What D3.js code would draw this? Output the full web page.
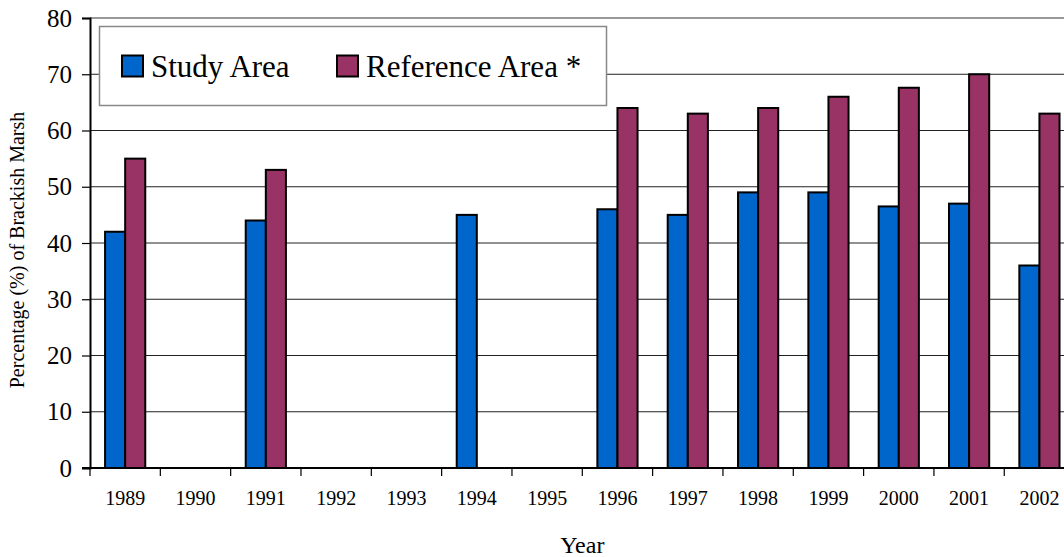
<!DOCTYPE html>
<html>
<head>
<meta charset="utf-8">
<script src="https://cdn.jsdelivr.net/npm/d3@7"></script>
<style>
  html, body { margin: 0; padding: 0; background: #fff; overflow: hidden; }
  svg { display: block; }
  svg text { font-family: "Liberation Serif", "Times New Roman", serif; fill: #000; }
</style>
</head>
<body>
<svg id="chart" width="1064" height="557"></svg>
<script>
// Brackish marsh share by year
const years = ["1989","1990","1991","1992","1993","1994","1995","1996","1997","1998","1999","2000","2001","2002"];
const studyArea = [42, null, 44, null, null, 45, null, 46, 45, 49, 49, 46.5, 47, 36];
const referenceArea = [55, null, 53, null, null, null, null, 64, 63, 64, 66, 67.6, 70, 63];
const seriesNames = ["Study Area", "Reference Area *"];
const seriesColors = ["#0066CC", "#993366"];
const yTicks = [0, 10, 20, 30, 40, 50, 60, 70, 80];

const serif = "Liberation Serif, Times New Roman, serif";
const svg = d3.select("#chart");
const plotL = 90, plotR = 1074.6, plotT = 18, plotB = 468;

const x = d3.scaleBand().domain(years).range([plotL, plotR]).padding(0);
const y = d3.scaleLinear().domain([0, 80]).range([plotB, plotT]);

// each group of two bars uses a 150% gap width
const barW = x.bandwidth() / 3.5;

// horizontal gridlines
svg.append("g")
  .selectAll("line")
  .data(yTicks.filter(t => t > 0 && t < 80))
  .join("line")
  .attr("x1", plotL).attr("x2", plotR)
  .attr("y1", d => y(d)).attr("y2", d => y(d))
  .attr("stroke", "#222").attr("stroke-width", 1);

// plot area top border
svg.append("line")
  .attr("x1", plotL).attr("x2", plotR)
  .attr("y1", y(80)).attr("y2", y(80))
  .attr("stroke", "#999").attr("stroke-width", 2);

// bars
const rows = years.map((yr, i) => ({ yr, vals: [studyArea[i], referenceArea[i]] }));
const groups = svg.append("g").selectAll("g")
  .data(rows).join("g")
  .attr("transform", d => `translate(${x(d.yr) + x.bandwidth() / 2 - barW},0)`);
groups.selectAll("rect")
  .data(d => d.vals.map((v, k) => ({ v, k })).filter(e => e.v !== null))
  .join("rect")
  .attr("x", d => d.k * barW)
  .attr("width", barW)
  .attr("y", d => y(d.v))
  .attr("height", d => y(0) - y(d.v))
  .attr("fill", d => seriesColors[d.k])
  .attr("stroke", "#000").attr("stroke-width", 2);

// y axis
const yAxis = svg.append("g")
  .attr("transform", `translate(${plotL},0)`)
  .call(d3.axisLeft(y).tickValues(yTicks).tickSize(8).tickPadding(10))
  .attr("font-family", serif);
yAxis.select(".domain").attr("stroke", "#000").attr("stroke-width", 2);
yAxis.selectAll(".tick line").attr("stroke", "#000").attr("stroke-width", 1.2);
yAxis.selectAll(".tick text").attr("font-size", 25).attr("fill", "#000")
  .attr("font-family", serif);

// x axis: ticks on category boundaries
const xAxis = svg.append("g").attr("transform", `translate(0,${plotB})`);
xAxis.append("line").attr("x1", plotL - 8).attr("x2", plotR)
  .attr("stroke", "#000").attr("stroke-width", 2);
xAxis.selectAll("line.tk")
  .data(years).join("line").attr("class", "tk")
  .attr("x1", d => x(d)).attr("x2", d => x(d))
  .attr("y1", 0).attr("y2", 8)
  .attr("stroke", "#000").attr("stroke-width", 1.2);
xAxis.selectAll("text")
  .data(years).join("text")
  .attr("x", d => x(d) + x.bandwidth() / 2)
  .attr("y", 37)
  .attr("text-anchor", "middle")
  .attr("font-family", serif)
  .attr("font-size", 20)
  .text(d => d);

// axis titles
svg.append("text")
  .attr("x", (plotL + plotR) / 2).attr("y", 553)
  .attr("text-anchor", "middle").attr("font-size", 24)
  .attr("font-family", serif)
  .text("Year");
svg.append("text")
  .attr("transform", `translate(24,250) rotate(-90)`)
  .attr("text-anchor", "middle").attr("font-size", 20)
  .attr("font-family", serif)
  .text("Percentage (%) of Brackish Marsh");

// legend
const lg = svg.append("g");
lg.append("rect").attr("x", 99.5).attr("y", 26.5).attr("width", 507).attr("height", 79)
  .attr("fill", "#fff").attr("stroke", "#888").attr("stroke-width", 1.5);
const legendX = [122, 337];
seriesNames.forEach((name, k) => {
  lg.append("rect").attr("x", legendX[k]).attr("y", 55.5).attr("width", 21).attr("height", 21)
    .attr("fill", seriesColors[k]).attr("stroke", "#000").attr("stroke-width", 2);
  lg.append("text").attr("x", legendX[k] + 29).attr("y", 77)
    .attr("font-family", serif)
    .attr("font-size", 31).text(name);
});
</script>
</body>
</html>
